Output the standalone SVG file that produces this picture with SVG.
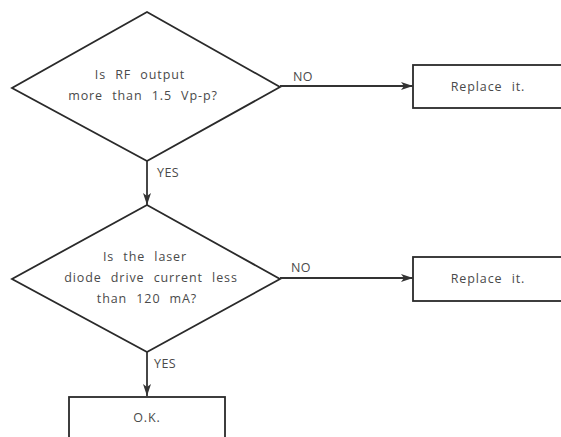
<svg xmlns="http://www.w3.org/2000/svg" width="561" height="437" viewBox="0 0 561 437">
<defs>
<style>
.shape{fill:none;stroke:#2a2a2a;stroke-width:1.8;stroke-linejoin:miter}
.t{font-family:"Open Sans","DejaVu Sans",sans-serif;font-size:12.5px;fill:#4a4a4a;text-anchor:middle;letter-spacing:0.9px;word-spacing:5px}
.lbl{font-family:"Open Sans","DejaVu Sans",sans-serif;font-size:12.5px;fill:#4a4a4a;letter-spacing:0.4px}
.conn{fill:none;stroke:#333;stroke-width:1.8}
</style>
<marker id="arr" viewBox="0 0 12 8" refX="12" refY="4" markerWidth="12" markerHeight="8" markerUnits="userSpaceOnUse" orient="auto">
<path d="M0,0 L12,4 L0,8 L3,4 Z" fill="#333"/>
</marker>
</defs>
<rect width="561" height="437" fill="#fff"/>
<g id="d1">
<polygon class="shape" points="147,12 280,87 147,161 12,88"/>
<text class="t" x="140" y="79">Is RF output</text>
<text class="t" x="143" y="100">more than 1.5 Vp-p?</text>
</g>
<g id="r1">
<rect class="shape" x="413" y="65" width="160" height="43"/>
<text class="t" x="488" y="91">Replace it.</text>
</g>
<g id="d2">
<polygon class="shape" points="147,205 280,279 147,352 12,279"/>
<text class="t" x="145" y="261">Is the laser</text>
<text class="t" x="151" y="282">diode drive current less</text>
<text class="t" x="147" y="303">than 120 mA?</text>
</g>
<g id="r2">
<rect class="shape" x="413" y="257" width="160" height="44"/>
<text class="t" x="488" y="283">Replace it.</text>
</g>
<g id="ok">
<rect class="shape" x="69" y="397" width="156" height="60"/>
<text class="t" x="147" y="422">O.K.</text>
</g>
<g id="connectors">
<line class="conn" x1="280" y1="86" x2="413" y2="86" marker-end="url(#arr)"/>
<text class="lbl" x="293" y="81">NO</text>
<line class="conn" x1="147" y1="161" x2="147" y2="205" marker-end="url(#arr)"/>
<text class="lbl" x="157" y="177">YES</text>
<line class="conn" x1="280" y1="278" x2="413" y2="278" marker-end="url(#arr)"/>
<text class="lbl" x="291" y="272">NO</text>
<line class="conn" x1="147" y1="352" x2="147" y2="396" marker-end="url(#arr)"/>
<text class="lbl" x="154" y="368">YES</text>
</g>
</svg>
